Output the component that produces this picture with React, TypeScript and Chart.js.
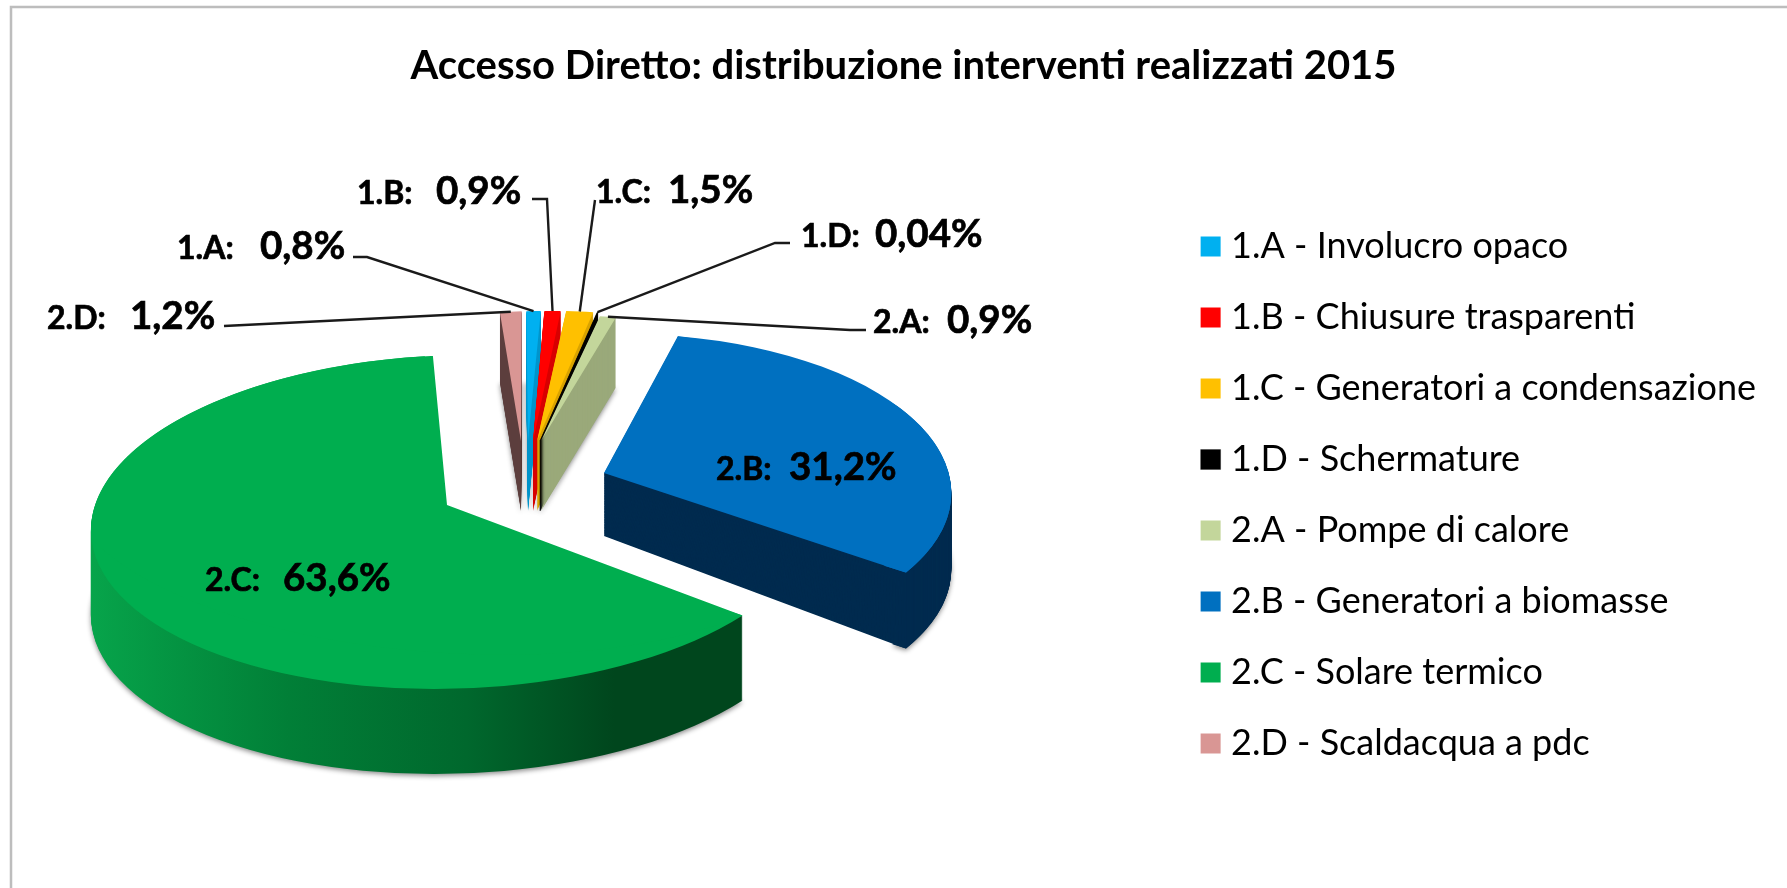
import React, { useEffect, useRef } from "react";
import { Chart, registerables } from "chart.js";

Chart.register(...registerables);

const titleText = "Accesso Diretto: distribuzione interventi realizzati 2015";
const categories = [
  "1.A - Involucro opaco",
  "1.B - Chiusure trasparenti",
  "1.C - Generatori a condensazione",
  "1.D - Schermature",
  "2.A - Pompe di calore",
  "2.B - Generatori a biomasse",
  "2.C - Solare termico",
  "2.D - Scaldacqua a pdc",
];
const values = [0.8, 0.9, 1.5, 0.04, 0.9, 31.2, 63.6, 1.2];
const topColors = ["#00b0f0", "#ff0000", "#ffc000", "#000000", "#c3d69b", "#0070c0", "#00ae4f", "#d99694"];
const sideColors = ["#0096cc", "#d80000", "#d9a300", "#000000", "#9aa97a", "#002b4f", "", "#5e403f"];
const hairline = [0, 0, 0, 0.25, 0, 0, 0, 0];

// Where each exploded slice sits on the page: rim centre, squash/skew matrix, wall height.
const placement: any[] = [
  { x: 528, y: 441, a: 290, b: -17, c: 0, d: 130, depth: 70 },
  { x: 533, y: 441, a: 290, b: -15.5, c: 0, d: 130, depth: 70 },
  { x: 537, y: 441, a: 290, b: -17, c: 0, d: 130, depth: 70 },
  { x: 540, y: 441, a: 290, b: -18, c: 0, d: 130, depth: 70 },
  { x: 541, y: 441, a: 290, b: -19, c: 0, d: 126, depth: 70 },
  {
    x: 630, y: 490, a: 321, b: 14.6, c: -4, d: 156, depth: 76, wallInner: 95, topInner: 92,
    // Foreshortening: the apex of the wedge sits above the centre of its rim.
    apex: { x: 604, y: 473, a: 364, b: -3.4, c: 24.3, d: 144.5, drop: 63, dc: 21.5, dd: -9 },
  },
  {
    x: 453, y: 522, a: 361.4, b: -22.4, c: 2, d: 167, depth: 85, wallInner: 92, topInner: 60,
    apex: { x: 447, y: 505, a: 379.5, b: -39.2, c: 36.7, d: 145.3, drop: 0, dc: 0, dd: 0 },
  },
  { x: 521, y: 441, a: 290, b: -19.5, c: 0, d: 130, depth: 70 },
];
const paintOrder = [7, 0, 1, 2, 3, 4, 5, 6];

// Data label layout: x of code, x of value, baseline, leader line start points.
const labelLayout = [
  { x: 177, vx: 260, y: 259, line: [[353, 257], [367, 257]] },
  { x: 357, vx: 436, y: 204, line: [[532, 199], [547, 199]] },
  { x: 596, vx: 668, y: 203, line: [[595, 200]] },
  { x: 801, vx: 875, y: 247, line: [[790, 243], [775, 243]] },
  { x: 873, vx: 947, y: 333, line: [[866, 330], [850, 330]] },
  { x: 716, vx: 789, y: 480, line: [] },
  { x: 205, vx: 283, y: 591, line: [] },
  { x: 47, vx: 130, y: 329, line: [[224, 326]] },
];

const FONT = "Lato, Carlito, sans-serif";

const frame = {
  id: "frame",
  beforeDraw(chart: any) {
    const { ctx, width, height } = chart;
    ctx.save();
    ctx.fillStyle = "#ffffff";
    ctx.fillRect(0, 0, width, height);
    ctx.strokeStyle = "#bdbdbd";
    ctx.lineWidth = 2.5;
    ctx.beginPath();
    ctx.moveTo(11, height + 2);
    ctx.lineTo(11, 7);
    ctx.lineTo(width + 2, 7);
    ctx.stroke();
    ctx.restore();
  },
};

function place(ctx: any, p: any, dy: number) {
  ctx.translate(p.x, p.y + dy);
  ctx.transform(p.a / 100, p.c / 100, p.b / 100, p.d / 100, 0, 0);
}

function clipToRim(ctx: any, p: any, dy: number) {
  const m = ctx.getTransform();
  ctx.beginPath();
  place(ctx, p, dy);
  ctx.arc(0, 0, 100, 0, Math.PI * 2);
  ctx.setTransform(m);
  ctx.clip();
}

function drawArc(ctx: any, arc: any, p: any, dy: number, fill: any, opt: any = {}) {
  ctx.save();
  if (opt.shadow) {
    ctx.shadowColor = "rgba(0,0,0,0.45)";
    ctx.shadowBlur = 5;
    ctx.shadowOffsetY = 2;
  }
  if (opt.rim) clipToRim(ctx, opt.rim, opt.rimDy || 0);
  place(ctx, p, dy);
  ctx.translate(-arc.x, -arc.y);
  const saved = arc.options;
  const inner = arc.innerRadius;
  arc.options = { ...saved, backgroundColor: fill, borderColor: "#000000" };
  if (opt.inner) arc.innerRadius = opt.inner;
  arc.draw(ctx);
  arc.options = saved;
  arc.innerRadius = inner;
  ctx.restore();
}

const pie3d = {
  id: "pie3d",
  beforeDatasetsDraw(chart: any) {
    const { ctx } = chart;
    const arcs = chart.getDatasetMeta(0).data;
    for (const i of paintOrder) {
      const arc = arcs[i];
      const p = placement[i];
      let side: any = sideColors[i];
      if (!side) {
        const g = ctx.createLinearGradient(arc.x - 100, 0, arc.x + 100, 0);
        g.addColorStop(0, "#07a54b");
        g.addColorStop(0.3, "#017f37");
        g.addColorStop(0.55, "#00682d");
        g.addColorStop(0.75, "#00461d");
        g.addColorStop(1, "#00461d");
        side = g;
      }
      for (let dy = p.depth; dy > 0; dy--) {
        drawArc(ctx, arc, p, dy, side, { shadow: dy === p.depth, inner: p.wallInner });
      }
      const q = p.apex;
      if (q && q.drop) {
        for (let dy = p.depth; dy > 0; dy--) {
          const k = dy / p.depth;
          const step = { ...q, y: q.y + q.drop * k, c: q.c + q.dc * k, d: q.d + q.dd * k };
          drawArc(ctx, arc, step, 0, side, { rim: p, rimDy: dy });
        }
      }
      drawArc(ctx, arc, p, 0, topColors[i], { inner: p.topInner });
      if (q) drawArc(ctx, arc, q, 0, topColors[i], { rim: p });
    }
    return false;
  },
  afterDraw(chart: any) {
    const { ctx } = chart;
    const arcs = chart.getDatasetMeta(0).data;
    ctx.save();
    ctx.textBaseline = "alphabetic";
    ctx.textAlign = "left";
    ctx.fillStyle = "#000000";
    categories.forEach((name, i) => {
      const l = labelLayout[i];
      const p = placement[i];
      if (l.line.length) {
        const mid = (arcs[i].startAngle + arcs[i].endAngle) / 2;
        const X = Math.cos(mid);
        const Y = Math.sin(mid);
        ctx.strokeStyle = "#1a1a1a";
        ctx.lineWidth = 2.4;
        ctx.beginPath();
        l.line.forEach((pt: number[], k: number) => (k ? ctx.lineTo(pt[0], pt[1]) : ctx.moveTo(pt[0], pt[1])));
        ctx.lineTo(p.x + p.a * X + p.b * Y, p.y + p.c * X + p.d * Y);
        ctx.stroke();
      }
      ctx.lineWidth = 0.7;
      ctx.strokeStyle = "#000000";
      const code = name.split(" - ")[0] + ":";
      const val = String(values[i]).replace(".", ",") + "%";
      ctx.font = `bold 32px ${FONT}`;
      ctx.fillText(code, l.x, l.y);
      ctx.strokeText(code, l.x, l.y);
      ctx.font = `bold 38.5px ${FONT}`;
      ctx.fillText(val, l.vx, l.y);
      ctx.strokeText(val, l.vx, l.y);
    });
    ctx.restore();
  },
};

export default function App() {
  const ref = useRef<HTMLCanvasElement | null>(null);
  useEffect(() => {
    document.body.style.margin = "0";
    const chart = new Chart(ref.current as any, {
      type: "pie",
      data: {
        labels: categories,
        datasets: [
          {
            data: values,
            backgroundColor: topColors,
            borderWidth: hairline,
            borderColor: "#000000",
          },
        ],
      },
      options: {
        responsive: false,
        animation: false,
        rotation: -3.7,
        radius: 100,
        layout: { padding: { left: 41, right: 21, top: 42, bottom: 68 } },
        plugins: {
          tooltip: { enabled: false },
          title: {
            display: true,
            text: titleText,
            color: "#000000",
            font: { family: FONT, size: 40, weight: "bold" },
            padding: { top: 0, bottom: 80 },
          },
          legend: {
            position: "right",
            fullSize: false,
            labels: {
              usePointStyle: true,
              pointStyle: "rect",
              boxWidth: 5,
              boxHeight: 20,
              color: "#000000",
              font: { family: FONT, size: 36 },
              padding: 35,
            },
          },
        },
      },
      plugins: [frame, pie3d],
    } as any);
    return () => chart.destroy();
  }, []);
  return (
    <canvas
      ref={ref}
      width={1787}
      height={888}
      style={{ display: "block", width: 1787, height: 888, filter: "blur(0.6px)" }}
    />
  );
}
